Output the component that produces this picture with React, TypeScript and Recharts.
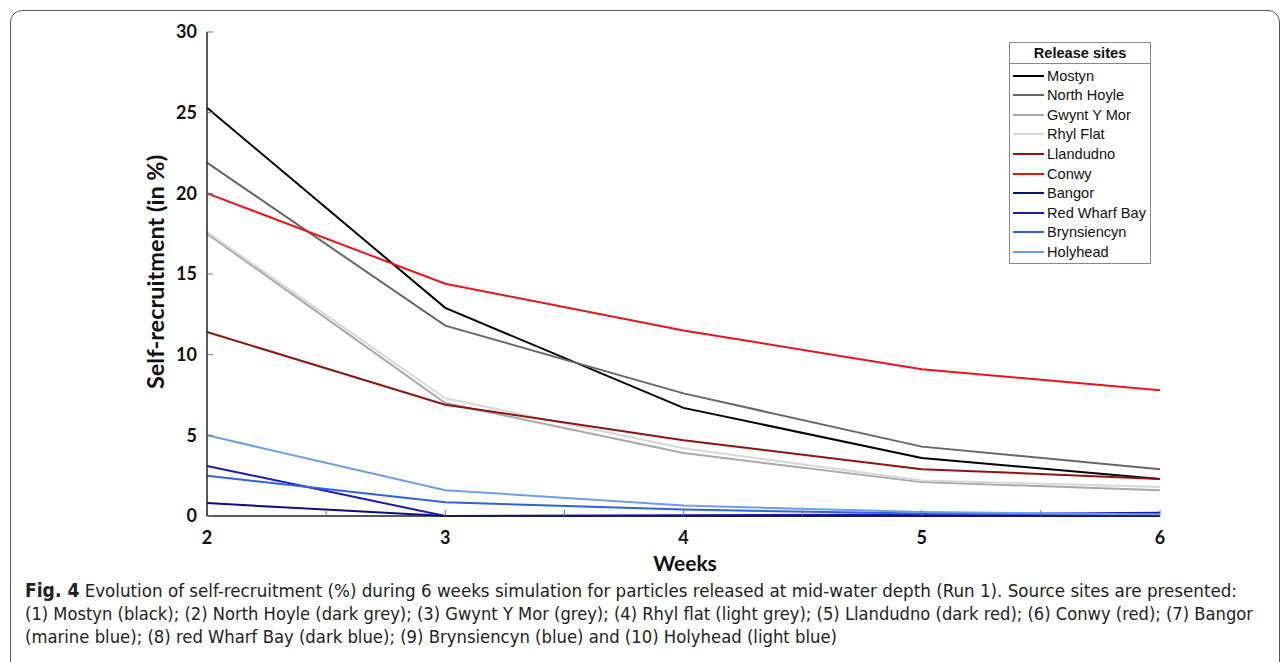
import React from 'react';
import { LineChart, Line, XAxis, YAxis } from 'recharts';

const weeks = [2, 3, 4, 5, 6];

const mostyn = [25.3, 12.9, 6.7, 3.6, 2.3];
const northHoyle = [21.9, 11.8, 7.6, 4.3, 2.9];
const gwyntYMor = [17.5, 7.0, 3.9, 2.1, 1.6];
const rhylFlat = [17.6, 7.3, 4.2, 2.2, 1.8];
const llandudno = [11.4, 6.9, 4.7, 2.9, 2.3];
const conwy = [20.0, 14.4, 11.5, 9.1, 7.8];
const bangor = [0.8, 0.0, 0.0, 0.0, 0.0];
const redWharfBay = [3.1, 0.0, 0.05, 0.1, 0.2];
const brynsiencyn = [2.5, 0.85, 0.4, 0.15, 0.05];
const holyhead = [5.0, 1.6, 0.65, 0.25, 0.1];

const xTicks = [2, 2.5, 3, 3.5, 4, 4.5, 5, 5.5, 6];
const yTicks = [0, 5, 10, 15, 20, 25, 30];

const sites = [
  { key: 'mostyn', name: 'Mostyn', values: mostyn, color: '#000000' },
  { key: 'northHoyle', name: 'North Hoyle', values: northHoyle, color: '#676767' },
  { key: 'gwyntYMor', name: 'Gwynt Y Mor', values: gwyntYMor, color: '#a8a8a8' },
  { key: 'rhylFlat', name: 'Rhyl Flat', values: rhylFlat, color: '#d8d8d8' },
  { key: 'llandudno', name: 'Llandudno', values: llandudno, color: '#8c1414' },
  { key: 'conwy', name: 'Conwy', values: conwy, color: '#e8141c' },
  { key: 'bangor', name: 'Bangor', values: bangor, color: '#0c0c7a' },
  { key: 'redWharfBay', name: 'Red Wharf Bay', values: redWharfBay, color: '#1a1ab4' },
  { key: 'brynsiencyn', name: 'Brynsiencyn', values: brynsiencyn, color: '#2f62dc' },
  { key: 'holyhead', name: 'Holyhead', values: holyhead, color: '#6e9ee8' },
];

const data = weeks.map((w, i) => {
  const row: any = { week: w };
  sites.forEach((s) => { row[s.key] = s.values[i]; });
  return row;
});

const captionLines = [
  'Evolution of self-recruitment (%) during 6 weeks simulation for particles released at mid-water depth (Run 1). Source sites are presented:',
  '(1) Mostyn (black); (2) North Hoyle (dark grey); (3) Gwynt Y Mor (grey); (4) Rhyl flat (light grey); (5) Llandudno (dark red); (6) Conwy (red); (7) Bangor',
  '(marine blue); (8) red Wharf Bay (dark blue); (9) Brynsiencyn (blue) and (10) Holyhead (light blue)',
];

const tickFont = { fontFamily: 'Lato, "Open Sans", sans-serif', fontWeight: 700, fontSize: 18, fill: '#111' };
const captionStyle = { fontFamily: '"Liberation Sans Narrow", "DejaVu Sans Condensed", sans-serif', fontSize: 18.5, fill: '#222' };

const LegendBox = () => (
  <div
    style={{
      position: 'absolute',
      left: 1009,
      top: 42,
      width: 140,
      border: '1px solid #888',
      background: '#fff',
      fontFamily: '"Liberation Sans", Arial, sans-serif',
      fontSize: 14.6,
      color: '#111',
    }}
  >
    <div style={{ textAlign: 'center', fontWeight: 700, height: 20, lineHeight: '20px', borderBottom: '1px solid #888' }}>
      Release sites
    </div>
    <div style={{ padding: '2px 0 2px 0' }}>
      {sites.map((s) => (
        <div key={s.key} style={{ display: 'flex', alignItems: 'center', height: 19.55, whiteSpace: 'nowrap' }}>
          <div style={{ width: 31, height: 2, background: s.color, marginLeft: 3, marginRight: 3 }} />
          <span>{s.name}</span>
        </div>
      ))}
    </div>
  </div>
);

export default function App() {
  return (
    <div style={{ position: 'absolute', left: 0, top: 0, width: 1284, height: 662, background: '#fff', overflow: 'hidden' }}>
      <div
        style={{
          position: 'absolute',
          left: 10,
          top: 10,
          width: 1268,
          height: 700,
          border: '1.5px solid #555',
          borderRadius: 12,
        }}
      />
      <div style={{ position: 'absolute', left: 0, top: 0 }}>
        <LineChart
          width={1284}
          height={556}
          data={data}
          margin={{ top: 32, right: 124, left: 147, bottom: 0 }}
        >
          <XAxis
            xAxisId="bottom"
            dataKey="week"
            type="number"
            domain={[2, 6]}
            ticks={xTicks}
            interval={0}
            height={40}
            tickSize={-6}
            tickMargin={21}
            tickFormatter={(v: number) => (Number.isInteger(v) ? String(v) : '')}
            tick={tickFont}
            stroke="#222"
            strokeWidth={1.5}
            tickLine={{ stroke: '#777', strokeWidth: 1 }}
          />
          <XAxis
            xAxisId="top"
            orientation="top"
            dataKey="week"
            type="number"
            domain={[2, 6]}
            ticks={xTicks}
            interval={0}
            height={0}
            tickSize={-6}
            tick={false}
            stroke="#222"
            strokeWidth={1.5}
            tickLine={{ stroke: '#777', strokeWidth: 1 }}
          />
          <YAxis
            yAxisId="left"
            type="number"
            domain={[0, 30]}
            ticks={yTicks}
            interval={0}
            width={60}
            tickSize={-6}
            tickMargin={16}
            tick={tickFont}
            stroke="#222"
            strokeWidth={1.5}
            tickLine={{ stroke: '#777', strokeWidth: 1 }}
          />
          <YAxis
            yAxisId="right"
            orientation="right"
            type="number"
            domain={[0, 30]}
            ticks={yTicks}
            interval={0}
            width={0}
            tickSize={-6}
            tick={false}
            stroke="#222"
            strokeWidth={1.5}
            tickLine={{ stroke: '#777', strokeWidth: 1 }}
          />
          {sites.map((s) => (
            <Line
              key={s.key}
              xAxisId="bottom"
              yAxisId="left"
              type="linear"
              dataKey={s.key}
              name={s.name}
              stroke={s.color}
              strokeWidth={2}
              dot={false}
              activeDot={false}
              isAnimationActive={false}
            />
          ))}
        </LineChart>
      </div>
      <LegendBox />
      <div
        style={{
          position: 'absolute',
          left: 155,
          top: 272,
          transform: 'translate(-50%, -50%) rotate(-90deg)',
          whiteSpace: 'nowrap',
          fontFamily: 'Lato, "Open Sans", sans-serif',
          fontWeight: 700,
          fontSize: 23.5,
          color: '#111',
        }}
      >
        Self-recruitment (in %)
      </div>
      <div
        style={{
          position: 'absolute',
          left: 685,
          top: 562,
          transform: 'translate(-50%, -50%)',
          whiteSpace: 'nowrap',
          fontFamily: 'Lato, "Open Sans", sans-serif',
          fontWeight: 700,
          fontSize: 21,
          color: '#111',
        }}
      >
        Weeks
      </div>
      <svg style={{ position: 'absolute', left: 0, top: 548 }} width={1284} height={114}>
        <text x={25} y={49} textLength={1212} lengthAdjust="spacingAndGlyphs" style={captionStyle}>
          <tspan fontWeight={700} fontSize={19}>Fig. 4</tspan>
          <tspan>{'  ' + captionLines[0]}</tspan>
        </text>
        <text x={25} y={72} textLength={1228} lengthAdjust="spacingAndGlyphs" style={captionStyle}>
          {captionLines[1]}
        </text>
        <text x={25} y={95} textLength={812} lengthAdjust="spacingAndGlyphs" style={captionStyle}>
          {captionLines[2]}
        </text>
      </svg>
    </div>
  );
}
